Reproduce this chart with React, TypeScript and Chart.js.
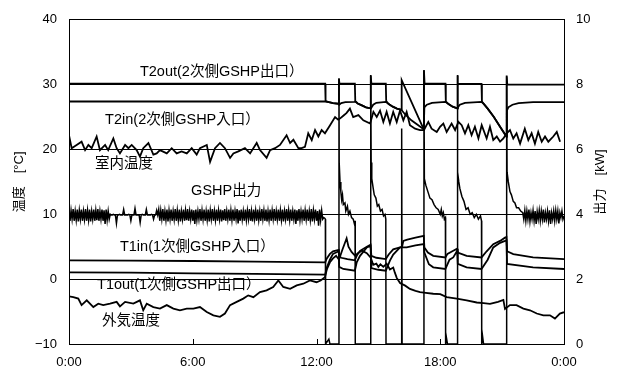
import React, { useEffect, useRef } from 'react';
import { Chart, registerables } from 'chart.js';

Chart.register(...registerables);

const FONT = '"Liberation Sans", Arial, "Noto Sans CJK JP", sans-serif';

// ---- tick labels ----
const timeTickLabels = ['0:00', '6:00', '12:00', '18:00', '0:00'];
const leftTitle = '温度　[°C]';
const rightTitle = '出力　[kW]';

// ---- series (time in hours, value) ----
const t2out: [number, number][] = [
  [0, 30.15], [12.42, 30.15], [12.44, 27.45], [12.6, 27.3], [12.8, 27.15], [13.08, 27.05],
  [13.09, 30.9], [13.11, 30.15], [13.86, 30.15], [13.88, 27.45], [14.0, 27.1], [14.2, 26.8],
  [14.4, 26.5], [14.62, 26.35], [14.63, 31.4], [14.66, 30.15], [15.36, 30.15], [15.38, 27.45],
  [15.5, 27.0], [15.7, 26.6], [15.9, 26.3], [16.12, 26.1], [16.13, 30.7], [17.2, 23.1],
  [17.21, 32.2], [17.24, 30.15], [18.25, 30.15], [18.27, 27.4], [18.4, 27.0], [18.6, 26.6],
  [18.82, 26.35], [18.83, 31.4], [18.86, 30.1], [20.0, 30.1], [20.02, 27.4], [20.12, 27.0],
  [20.3, 26.3], [20.6, 25.0], [20.9, 23.5], [21.21, 22.0], [21.22, 31.4], [21.25, 30.0], [24, 30.0],
];

const t2in: [number, number][] = [
  [0, 27.4], [12.42, 27.4], [12.6, 27.3], [12.8, 27.15], [13.08, 27.05], [13.1, 26.9],
  [13.2, 27.15], [13.4, 27.3], [13.86, 27.35], [13.88, 27.4], [14.0, 27.1], [14.2, 26.8],
  [14.4, 26.5], [14.62, 26.35], [14.65, 26.4], [14.75, 26.9], [14.9, 27.2], [15.36, 27.35],
  [15.5, 27.0], [15.7, 26.6], [15.9, 26.3], [16.12, 26.1], [16.3, 25.4], [16.6, 24.5],
  [16.9, 23.8], [17.2, 23.1], [17.23, 26.5], [17.35, 26.9], [17.6, 27.2], [18.25, 27.35],
  [18.4, 27.0], [18.6, 26.6], [18.82, 26.35], [18.85, 26.5], [18.95, 26.9], [19.2, 27.2],
  [20.0, 27.35], [20.12, 27.0], [20.3, 26.3], [20.6, 25.0], [20.9, 23.5], [21.21, 22.0],
  [21.23, 26.0], [21.3, 26.5], [21.5, 26.9], [21.8, 27.15], [22.5, 27.3], [24, 27.3],
];

const roomTemp: [number, number][] = [
  [0, 22.2], [0.13, 20.2], [0.37, 20.7], [0.61, 21.2], [0.78, 19.9], [0.94, 20.7], [1.1, 20.2],
  [1.34, 22.0], [1.5, 19.9], [1.75, 20.7], [1.9, 19.9], [2.15, 21.7], [2.31, 20.2], [2.47, 19.4],
  [2.72, 20.7], [2.88, 20.2], [3.04, 20.7], [3.28, 19.9], [3.44, 18.9], [3.6, 20.2], [3.85, 21.0],
  [4.09, 19.2], [4.25, 19.4], [4.41, 19.9], [4.74, 19.4], [4.98, 20.2], [5.22, 19.4], [5.46, 19.7],
  [5.71, 19.4], [5.95, 20.2], [6.19, 19.2], [6.35, 20.2], [6.68, 20.7], [6.84, 18.1], [7.08, 20.2],
  [7.32, 21.0], [7.56, 20.2], [7.81, 18.7], [7.97, 19.4], [8.21, 19.7], [8.53, 20.2], [8.78, 19.4],
  [9.1, 21.0], [9.26, 19.9], [9.58, 18.7], [9.75, 19.9], [9.99, 20.2], [10.23, 20.7], [10.55, 22.2],
  [10.72, 21.0], [10.88, 21.5], [11.12, 20.2], [11.28, 20.2], [11.44, 20.4], [11.6, 22.5],
  [11.77, 21.45], [11.93, 23.0], [12.09, 22.0], [12.25, 23.0], [12.41, 22.5], [12.65, 23.7],
  [12.9, 25.0], [13.05, 24.6], [13.15, 24.8], [13.3, 25.2], [13.45, 25.6], [13.62, 26.3],
  [13.78, 25.0], [14.03, 25.3], [14.27, 24.5], [14.6, 24.0], [14.76, 25.8], [14.92, 25.0],
  [15.08, 26.0], [15.24, 24.25], [15.4, 25.8], [15.56, 24.0], [15.72, 25.8], [15.89, 24.25],
  [16.05, 26.0], [16.21, 24.5], [16.37, 25.8], [16.53, 23.75], [16.78, 23.2], [17.02, 23.0],
  [17.21, 23.0], [17.42, 24.25], [17.58, 23.2], [17.83, 22.7], [17.99, 23.5], [18.15, 24.0],
  [18.31, 22.7], [18.55, 24.0], [18.72, 23.0], [18.88, 24.25], [19.04, 23.75], [19.2, 22.5],
  [19.36, 23.75], [19.52, 22.2], [19.68, 23.5], [19.85, 21.7], [20.01, 23.75], [20.25, 21.7],
  [20.41, 23.5], [20.57, 21.45], [20.74, 22.0], [20.9, 21.2], [21.06, 21.7], [21.22, 22.5],
  [21.38, 23.0], [21.54, 21.7], [21.7, 22.5], [21.87, 20.9], [22.1, 23.2], [22.27, 21.45],
  [22.43, 22.5], [22.59, 20.9], [22.75, 22.7], [22.92, 21.2], [23.08, 22.0], [23.24, 21.2],
  [23.48, 22.0], [23.65, 22.7], [23.81, 21.2],
];

const outdoorTemp: [number, number][] = [
  [0, -2.66], [0.21, -2.77], [0.45, -3.0], [0.61, -4.0], [0.86, -3.27], [1.18, -4.3], [1.42, -3.78],
  [1.66, -4.0], [1.99, -3.78], [2.31, -3.5], [2.47, -4.2], [2.72, -3.5], [3.12, -3.78], [3.44, -3.27],
  [3.6, -4.8], [3.77, -3.78], [4.09, -4.3], [4.41, -4.54], [4.74, -4.0], [5.06, -4.54], [5.38, -4.8],
  [5.71, -4.54], [6.03, -4.54], [6.35, -4.3], [6.68, -5.06], [7.0, -5.57], [7.32, -5.8], [7.56, -5.3],
  [7.81, -4.0], [8.13, -3.5], [8.45, -3.0], [8.69, -2.5], [8.94, -2.77], [9.26, -2.0], [9.58, -1.73],
  [9.9, -1.2], [10.15, -0.2], [10.39, -1.2], [10.72, -1.5], [11.04, -0.96], [11.36, -0.7],
  [11.68, -0.2], [12.0, -0.47], [12.2, -0.2], [12.41, 0.3], [12.5, 1.5], [12.65, 2.6], [12.8, 3.2],
  [12.95, 3.6], [13.09, 3.0], [13.25, 4.5], [13.46, 6.3], [13.55, 5.0], [13.7, 4.2], [13.87, 3.6],
  [14.0, 4.0], [14.2, 4.4], [14.44, 4.0], [14.63, 3.3], [14.75, 2.2], [14.9, 2.4], [15.0, 1.9],
  [15.1, 2.3], [15.24, 1.9], [15.4, 2.4], [15.56, 1.5], [15.72, 1.8], [15.8, 1.0], [15.89, 0.2],
  [16.05, -0.6], [16.3, -1.0], [16.53, -1.5], [16.8, -1.8], [17.02, -2.0], [17.3, -2.1],
  [17.66, -2.25], [18.0, -2.3], [18.31, -2.77], [18.8, -3.0], [19.28, -3.27], [19.77, -3.6],
  [20.1, -3.7], [20.41, -3.8], [20.8, -3.5], [21.06, -3.2], [21.14, -4.6], [21.38, -4.0],
  [21.7, -4.0], [22.03, -4.54], [22.35, -4.8], [22.68, -5.3], [23.0, -5.57], [23.32, -5.57],
  [23.56, -6.07], [23.8, -5.3], [24, -5.1],
];

const t1in: [number, number][] = [
  [0, 2.9], [3, 2.85], [6, 2.8], [9, 2.7], [12.42, 2.6], [12.5, 3.2], [12.65, 3.9], [12.8, 4.3],
  [13.08, 4.5], [13.1, 3.5], [13.2, 3.3], [13.5, 3.1], [13.86, 2.9], [13.95, 3.6], [14.11, 4.37],
  [14.44, 5.0], [14.62, 5.3], [14.66, 3.6], [14.9, 3.3], [15.36, 3.1], [15.5, 3.8], [15.72, 4.6],
  [16.05, 4.9], [16.15, 5.0], [16.21, 5.9], [16.4, 6.1], [16.8, 6.4], [17.2, 6.67], [17.23, 4.9],
  [17.4, 4.1], [17.66, 3.6], [18.25, 3.35], [18.35, 3.9], [18.63, 4.37], [18.82, 4.7], [18.85, 4.1],
  [19.28, 3.6], [20.0, 3.35], [20.25, 4.3], [20.57, 5.4], [20.9, 5.9], [21.14, 6.4], [21.21, 6.5],
  [21.24, 4.3], [21.54, 3.87], [22.5, 3.35], [24, 3.1],
];

const t1out: [number, number][] = [
  [0, 1.06], [3, 1.0], [6, 0.9], [9, 0.8], [12.42, 0.7], [12.5, 1.8], [12.65, 3.0], [12.8, 3.9],
  [13.08, 4.3], [13.1, 1.9], [13.3, 1.57], [13.86, 1.3], [13.95, 2.6], [14.11, 3.6], [14.44, 4.9],
  [14.62, 5.14], [14.66, 1.7], [15.0, 1.45], [15.36, 1.3], [15.56, 2.85], [15.72, 3.8], [16.05, 4.9],
  [16.37, 4.9], [16.8, 5.2], [17.2, 5.4], [17.23, 4.1], [17.45, 2.3], [17.66, 1.83], [18.25, 1.57],
  [18.45, 3.0], [18.63, 3.35], [18.82, 4.37], [18.85, 2.35], [19.28, 1.83], [20.0, 1.57],
  [20.3, 3.0], [20.57, 4.9], [20.9, 5.6], [21.14, 5.9], [21.21, 6.0], [21.24, 2.35], [22.5, 1.83],
  [24, 1.57],
];

// GSHP output (kW): morning samples every 3 min from 0:00, afternoon pairs, night samples every 3 min from 22:03
const GSHP_STEP = 0.05;
const gshpMorning: number[] = [
  // 0:00 - 2:00
  4.15, 3.8, 4.12, 3.85, 4.16, 3.8, 4.1, 3.82, 4.15, 3.78,
  4.12, 3.85, 4.15, 3.8, 4.1, 3.84, 4.16, 3.8, 4.12, 3.82,
  4.15, 3.78, 4.1, 3.85, 4.15, 3.8, 4.12, 3.82, 4.16, 3.8,
  4.1, 3.85, 4.15, 3.8, 4.12, 3.7, 4.15, 3.82, 4.1, 3.85,
  4.0,
  // 2:03 - 4:18
  3.98, 3.98, 4.0, 3.98, 3.98, 3.72, 3.98, 3.98, 4.0, 3.98,
  3.98, 3.98, 4.15, 3.98, 3.98, 3.98, 3.98, 4.0, 3.98, 3.8,
  3.98, 3.98, 3.98, 4.18, 3.98, 3.98, 3.98, 3.98, 3.75, 3.98,
  4.0, 3.98, 3.98, 3.98, 4.15, 3.98, 3.98, 3.98, 3.98, 4.0,
  3.98, 3.85, 3.98, 3.98, 4.12, 3.98,
  // 4:21 - 12:24
  4.15, 3.8, 4.12, 3.85, 4.16, 3.8, 4.1, 3.82, 4.15, 3.78,
  4.12, 3.85, 4.15, 3.8, 4.1, 3.84, 4.16, 3.8, 4.12, 3.82,
  4.15, 3.78, 4.1, 3.85, 4.15, 3.8, 4.12, 3.82, 4.16, 3.8,
  4.1, 3.85, 4.15, 3.8, 4.12, 3.7, 4.15, 3.82, 4.1, 3.85,
  4.16, 3.8, 4.12, 3.84, 4.15, 3.8, 4.1, 3.82, 4.15, 3.78,
  4.12, 3.85, 4.16, 3.8, 4.1, 3.82, 4.15, 3.8, 4.12, 3.85,
  4.15, 3.78, 4.12, 3.82, 4.16, 3.8, 4.1, 3.85, 4.15, 3.8,
  4.12, 3.82, 4.15, 3.8, 4.1, 3.85, 4.16, 3.72, 4.12, 3.8,
  4.15, 3.84, 4.1, 3.8, 4.15, 3.82, 4.12, 3.85, 4.16, 3.8,
  4.1, 3.78, 4.15, 3.85, 4.12, 3.8, 4.15, 3.82, 4.1, 3.8,
  4.16, 3.85, 4.12, 3.8, 4.15, 3.78, 4.1, 3.82, 4.15, 3.8,
  4.12, 3.85, 4.16, 3.8, 4.1, 3.84, 4.15, 3.8, 4.12, 3.82,
  4.15, 3.78, 4.1, 3.85, 4.16, 3.8, 4.12, 3.82, 4.15, 3.8,
  4.1, 3.85, 4.15, 3.7, 4.12, 3.8, 4.16, 3.82, 4.1, 3.85,
  4.15, 3.8, 4.12, 3.84, 4.15, 3.8, 4.1, 3.82, 4.16, 3.78,
  4.12, 3.85, 4.15, 3.8, 4.1, 3.65, 4.15, 3.82, 4.12, 3.85,
  3.9, 3.88,
];
const gshpAfternoon: [number, number][] = [
  [12.43, 3.85], [12.44, 0], [12.6, 0.15], [12.65, 0], [13.08, 0],
  [13.09, 8.2], [13.1, 5.6], [13.14, 5.0], [13.18, 4.7], [13.22, 4.45], [13.26, 4.6], [13.3, 4.3],
  [13.38, 4.35], [13.42, 4.1], [13.5, 4.25], [13.55, 4.0], [13.62, 4.1], [13.7, 3.9], [13.78, 3.85],
  [13.84, 3.7], [13.87, 3.8], [13.88, 0],
  [14.62, 0], [14.63, 8.3], [14.65, 5.6], [14.68, 5.1], [14.75, 4.8], [14.8, 4.6], [14.88, 4.5],
  [14.95, 4.25], [15.02, 4.3], [15.1, 4.1], [15.18, 4.15], [15.25, 3.95], [15.32, 4.0], [15.36, 3.85],
  [15.37, 0],
  [16.12, 0], [16.13, 6.65], [16.15, 0],
  [17.2, 0], [17.21, 8.45], [17.23, 5.1], [17.3, 4.9], [17.4, 4.7], [17.5, 4.5], [17.6, 4.45],
  [17.7, 4.3], [17.8, 4.2], [17.9, 4.15], [18.0, 4.0], [18.05, 4.15], [18.1, 3.95], [18.15, 4.05],
  [18.2, 3.85], [18.25, 3.9], [18.26, 0],
  [18.3, 0.2], [18.35, 0], [18.82, 0], [18.83, 8.3], [18.85, 5.3], [18.9, 5.0], [18.95, 4.8],
  [19.05, 4.55], [19.15, 4.4], [19.25, 4.15], [19.35, 4.2], [19.45, 4.0], [19.55, 4.05], [19.65, 3.9],
  [19.75, 4.0], [19.85, 3.85], [19.95, 3.95], [20.0, 3.8], [20.01, 0],
  [20.05, 0.25], [20.1, 0], [21.21, 0], [21.22, 8.25], [21.24, 5.3], [21.3, 5.0], [21.38, 4.7],
  [21.45, 4.6], [21.54, 4.4], [21.62, 4.35], [21.7, 4.2], [21.8, 4.2], [21.9, 4.1], [22.0, 4.05],
];
const GSHP_NIGHT_START = 22.05;
const gshpNight: number[] = [
  3.85, 4.12, 3.8, 4.1, 3.85, 4.15, 3.78, 4.05, 3.85, 4.12,
  3.8, 4.1, 3.7, 4.08, 3.85, 4.12, 3.8, 4.1, 3.85, 4.15,
  3.75, 4.05, 3.85, 4.1, 3.8, 4.12, 3.7, 4.05, 3.85, 4.1,
  3.8, 4.12, 3.85, 4.1, 3.72, 4.05, 3.9, 4.1, 3.85, 3.95,
];

// in-chart labels (time, temperature)
const labels: { text: string; t: number; v: number }[] = [
  { text: 'T2out(2次側GSHP出口）', t: 3.44, v: 32.0 },
  { text: 'T2in(2次側GSHP入口）', t: 1.75, v: 24.6 },
  { text: '室内温度', t: 1.26, v: 17.75 },
  { text: 'GSHP出力', t: 5.92, v: 13.55 },
  { text: 'T1in(1次側GSHP入口）', t: 2.47, v: 4.98 },
  { text: 'T1out(1次側GSHP出口）', t: 1.36, v: -0.9 },
  { text: '外気温度', t: 1.6, v: -6.5 },
];

const toXY = (arr: [number, number][]) => arr.map(([x, y]) => ({ x, y }));

const overlay = {
  id: 'overlay',
  afterDraw(chart: any) {
    const { ctx, chartArea, scales } = chart;
    const xs = scales.x;
    const ys = scales.y;
    ctx.save();
    ctx.fillStyle = '#000';
    ctx.font = `14.5px ${FONT}`;
    ctx.textBaseline = 'middle';
    ctx.textAlign = 'left';
    for (const a of labels) {
      ctx.fillText(a.text, xs.getPixelForValue(a.t), ys.getPixelForValue(a.v));
    }
    // inner tick marks on time axis
    ctx.strokeStyle = '#000';
    ctx.lineWidth = 1;
    for (const tk of xs.ticks) {
      const px = Math.round(xs.getPixelForValue(tk.value)) + 0.5;
      ctx.beginPath();
      ctx.moveTo(px, chartArea.bottom);
      ctx.lineTo(px, chartArea.bottom - 5);
      ctx.stroke();
    }
    // right axis title (reads bottom to top)
    const y1 = scales.y1;
    ctx.translate(y1.left + 36, (chartArea.top + chartArea.bottom) / 2);
    ctx.rotate(-Math.PI / 2);
    ctx.textAlign = 'center';
    ctx.font = `13px ${FONT}`;
    ctx.fillText(rightTitle, 0, 0);
    ctx.restore();
  },
};

export default function App() {
  const ref = useRef<HTMLCanvasElement>(null);
  useEffect(() => {
    if (!ref.current) return;
    const common = { borderColor: '#000', borderWidth: 1.8, pointRadius: 0, tension: 0, fill: false };
    const gshpData = [
      ...gshpMorning.map((v, i) => ({ x: i * GSHP_STEP, y: v })),
      ...toXY(gshpAfternoon),
      ...gshpNight.map((v, i) => ({ x: GSHP_NIGHT_START + i * GSHP_STEP, y: v })),
    ];
    const tickFont = { family: FONT, size: 13 };
    const chart = new Chart(ref.current, {
      type: 'line',
      data: {
        datasets: [
          { ...common, label: 'T2out', data: toXY(t2out), yAxisID: 'y' },
          { ...common, label: 'T2in', data: toXY(t2in), yAxisID: 'y' },
          { ...common, label: '室内温度', data: toXY(roomTemp), yAxisID: 'y' },
          { ...common, label: 'GSHP出力', data: gshpData, yAxisID: 'y1', borderWidth: 1.5 },
          { ...common, label: 'T1in', data: toXY(t1in), yAxisID: 'y' },
          { ...common, label: 'T1out', data: toXY(t1out), yAxisID: 'y' },
          { ...common, label: '外気温度', data: toXY(outdoorTemp), yAxisID: 'y' },
        ],
      },
      options: {
        animation: false,
        responsive: false,
        events: [],
        layout: { padding: { top: 17, left: 0, right: 0, bottom: 0 } },
        plugins: { legend: { display: false }, tooltip: { enabled: false } },
        scales: {
          x: {
            type: 'linear',
            min: 0,
            max: 24,
            afterFit: (s: any) => { s.height = 28; },
            ticks: {
              stepSize: 6,
              autoSkip: false,
              maxRotation: 0,
              padding: 11,
              color: '#000',
              font: tickFont,
              callback: (v: any) => timeTickLabels[Math.round(Number(v) / 6)],
            },
            grid: { display: false, drawTicks: false },
            border: { display: true, color: '#000', width: 1 },
          },
          y: {
            position: 'left',
            min: -10,
            max: 40,
            afterFit: (s: any) => { s.width = 69; },
            ticks: {
              stepSize: 10,
              padding: 12,
              color: '#000',
              font: tickFont,
              callback: (v: any) => (Number(v) < 0 ? '−' + Math.abs(Number(v)) : String(v)),
            },
            grid: { color: '#000', lineWidth: 1, drawTicks: false },
            border: { display: true, color: '#000', width: 1 },
            title: { display: true, text: leftTitle, color: '#000', font: { family: FONT, size: 13 }, padding: { top: 12, bottom: 0 } },
          },
          y1: {
            position: 'right',
            min: 0,
            max: 10,
            afterFit: (s: any) => { s.width = 53; },
            ticks: { stepSize: 2, padding: 12, color: '#000', font: tickFont },
            grid: { drawOnChartArea: false, drawTicks: false },
            border: { display: true, color: '#000', width: 1 },
          },
        },
      },
      plugins: [overlay],
    } as any);
    return () => chart.destroy();
  }, []);
  return (
    <div style={{ position: 'fixed', left: 0, top: 0, width: 617, height: 372, background: '#fff' }}>
      <canvas ref={ref} width={617} height={372} style={{ display: 'block' }} />
    </div>
  );
}
